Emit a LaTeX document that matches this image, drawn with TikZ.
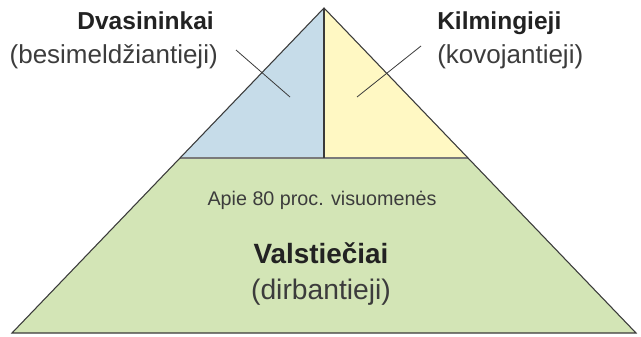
\documentclass[tikz,border=0pt]{standalone}
\usepackage{fontspec}
\setmainfont{Liberation Sans}
\definecolor{pblue}{HTML}{C6DCE9}
\definecolor{pyellow}{HTML}{FFF8C3}
\definecolor{pgreen}{HTML}{D3E5B6}
\definecolor{titlecol}{HTML}{222222}
\definecolor{subcol}{HTML}{3C3C3C}
\definecolor{edgecol}{HTML}{3A3A3A}
\definecolor{divcol}{HTML}{7A7A7A}
\begin{document}
\begin{tikzpicture}[x=0.75pt,y=-0.75pt,
  edge/.style={draw=edgecol,line width=0.8pt,line join=miter},
  divider/.style={draw=divcol,line width=1.6pt},
  leader/.style={draw=edgecol,line width=0.6pt},
  title/.style={inner sep=0pt,text=titlecol,font=\fontsize{18.4}{22}\selectfont\bfseries},
  sub/.style={inner sep=0pt,text=subcol,font=\fontsize{19.5}{23}\selectfont},
  small/.style={inner sep=0pt,text=subcol,font=\fontsize{14.8}{18}\selectfont},
  bigtitle/.style={inner sep=0pt,text=titlecol,font=\fontsize{20.9}{25}\selectfont\bfseries},
  bigsub/.style={inner sep=0pt,text=subcol,font=\fontsize{21.2}{25}\selectfont}]
\useasboundingbox (0,0) rectangle (641,336);
\coordinate (apex) at (324,8);
\coordinate (bl) at (12,333);
\coordinate (br) at (636,333);
\coordinate (ml) at (180,158);
\coordinate (mr) at (468,158);
\coordinate (mm) at (324,158);
\fill[pgreen] (ml) -- (mr) -- (br) -- (bl) -- cycle;
\fill[pblue] (apex) -- (mm) -- (ml) -- cycle;
\fill[pyellow] (apex) -- (mr) -- (mm) -- cycle;
\draw[divider] (ml) -- (mr);
\draw[edge] (apex) -- (mm);
\draw[edge] (apex) -- (br) -- (bl) -- cycle;
% leader lines
\coordinate (la) at (236,50);
\coordinate (lb) at (290,97);
\coordinate (ra) at (421,46);
\coordinate (rb) at (357,97);
\draw[leader] (la) -- (lb);
\draw[leader] (ra) -- (rb);
% texts
\node[title,anchor=base east] (dv) at (214,29) {Dvasininkai};
\node[sub,anchor=base east] (dvs) at (218,63) {(besimeldžiantieji)};
\node[title,anchor=base west] (ki) at (437,29) {Kilmingieji};
\node[sub,anchor=base west] (kis) at (437,63) {(kovojantieji)};
\node[small,anchor=base] (ap) at (322,205) {Apie 80 proc. visuomenės};
\node[bigtitle,anchor=base] (va) at (321,263) {Valstiečiai};
\node[bigsub,anchor=base] (vas) at (321,299) {(dirbantieji)};
\end{tikzpicture}
\end{document}
